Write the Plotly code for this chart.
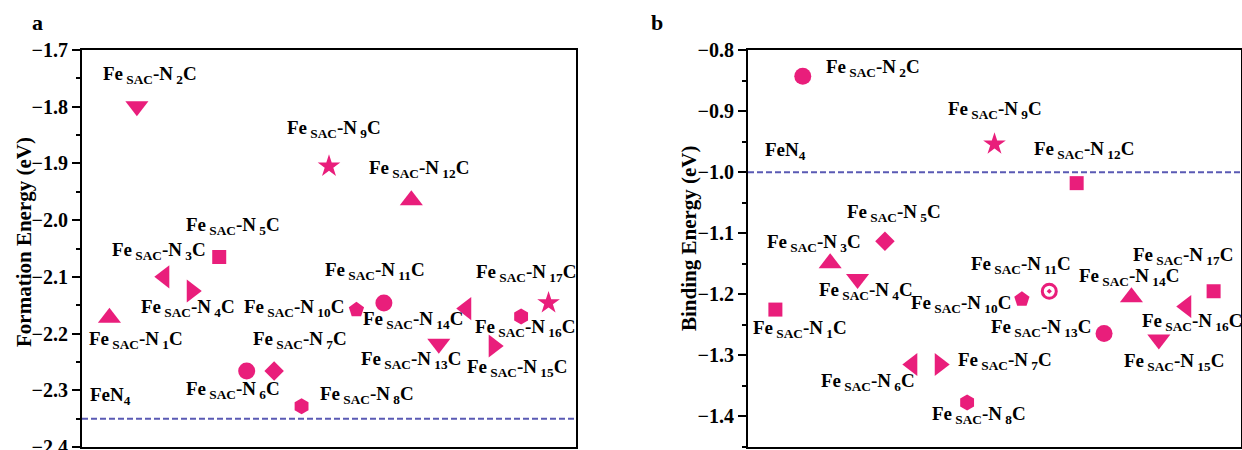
import plotly.graph_objects as go

# ---------------- data ----------------
n_index = list(range(1, 18))  # N1 ... N17

formation_energy = [-2.172, -1.799, -2.100, -2.125, -2.065, -2.266, -2.266, -2.328,
                    -1.905, -2.158, -2.146, -1.965, -2.218, -2.156, -2.222, -2.170, -2.146]
formation_fen4 = -2.35

binding_energy = [-1.225, -0.843, -1.149, -1.175, -1.113, -1.315, -1.315, -1.377,
                  -0.954, -1.208, -1.195, -1.018, -1.264, -1.205, -1.274, -1.220, -1.195]
binding_fen4 = -1.0

symbols_a = ["triangle-up", "triangle-down", "triangle-left", "triangle-right", "square",
             "circle", "diamond", "hexagon", "star", "pentagon", "circle", "triangle-up",
             "triangle-down", "triangle-left", "triangle-right", "hexagon", "star"]
symbols_b = ["square", "circle", "triangle-up", "triangle-down", "diamond", "triangle-left",
             "triangle-right", "hexagon", "star", "pentagon", "circle-open-dot", "square",
             "circle", "triangle-up", "triangle-down", "triangle-left", "square"]

# label offsets (pixels) relative to each marker
offsets_a = [(27, -24), (13, 29), (-5, 24), (-4, -19), (14, 29), (-14, -21), (26, 29), (65, 9),
             (5, 35), (-62, 0), (-9, 30), (8, 29), (-28, -18), (-53, -13), (23, -24), (4, -13),
             (-23, 28)]
offsets_b = [(25, -21), (70, 6), (-16, 18), (8, -14), (9, 26), (-44, -19), (65, 2), (12, -15),
             (0, 32), (-61, -7), (-28, 24), (7, 31), (-63, 3), (-2, 18), (15, -24), (6, -17),
             (-31, 33)]

PINK = "#E91E7B"
DASH = "#5A5AB4"
FONT = "Liberation Serif"

size_map = {"triangle-up": 20, "triangle-down": 20, "triangle-left": 20, "triangle-right": 20,
            "square": 14, "circle": 17, "diamond": 15, "hexagon": 16, "star": 17,
            "pentagon": 16, "circle-open-dot": 14}


def label(n):
    return f"Fe<sub> SAC</sub>-N<sub> {n}</sub>C"


fig = go.Figure()

for vals, syms, xa, ya in [(formation_energy, symbols_a, "x", "y"),
                           (binding_energy, symbols_b, "x2", "y2")]:
    fig.add_trace(go.Scatter(
        x=n_index, y=vals, mode="markers", xaxis=xa, yaxis=ya, showlegend=False,
        marker=dict(symbol=syms, color=PINK, opacity=1, size=[size_map[s] for s in syms],
                    line=dict(width=[3 if s == "circle-open-dot" else 0 for s in syms],
                              color=PINK)),
    ))

annotations = []
for vals, offs, xr, yr in [(formation_energy, offsets_a, "x", "y"),
                           (binding_energy, offsets_b, "x2", "y2")]:
    for n, v, (dx, dy) in zip(n_index, vals, offs):
        annotations.append(dict(
            x=n, y=v, xref=xr, yref=yr, text=label(n), showarrow=False,
            xshift=dx, yshift=dy + 2, xanchor="center", yanchor="middle",
            font=dict(family=FONT, size=19, color="black", weight="bold")))

# FeN4 reference lines and labels
for val, xr, yr, xs, ys in [(formation_fen4, "x", "y", 6, 21), (binding_fen4, "x2", "y2", 15, 19)]:
    fig.add_shape(type="line", xref=xr + " domain", yref=yr, x0=0, x1=1, y0=val, y1=val,
                  line=dict(color=DASH, width=2, dash="6px,3px"))
    annotations.append(dict(
        x=0, y=val, xref=xr, yref=yr, text="FeN<sub>4</sub>", showarrow=False,
        xshift=xs, yshift=ys + 2, xanchor="left", yanchor="middle",
        font=dict(family=FONT, size=19, color="black", weight="bold")))

# panel letters
for txt, xp in [("a", 37 / 1242), ("b", 657 / 1242)]:
    annotations.append(dict(
        x=xp, y=1.07, xref="paper", yref="paper", text=txt, showarrow=False,
        xanchor="center", yanchor="middle",
        font=dict(family=FONT, size=22, color="black", weight="bold")))

# axis titles (placed precisely as rotated annotations)
for txt, xp, yp in [("Formation Energy (eV)", 24 / 1242, (447 - 242) / 397),
                    ("Binding Energy (eV)", 689 / 1242, (447 - 238) / 397)]:
    annotations.append(dict(
        x=xp, y=yp, xref="paper", yref="paper", text=txt, showarrow=False,
        textangle=-90, xanchor="center", yanchor="middle",
        font=dict(family=FONT, size=21, color="black", weight="bold")))

axis_common = dict(showline=True, linewidth=2, linecolor="black", mirror=True,
                   showgrid=False, zeroline=False, automargin=False)

yaxis_common = dict(
    **axis_common, ticks="outside", ticklen=8, tickwidth=2, tickcolor="black",
    tickfont=dict(family=FONT, size=20, color="black", weight="bold"),
    minor=dict(ticks="outside", ticklen=4, tickwidth=2, tickcolor="black", dtick=0.05),
    dtick=0.1, tickformat=".1f", ticklabeloverflow="allow",
)

fig.update_layout(
    width=1242, height=450,
    margin=dict(l=0, r=0, t=50, b=3),
    paper_bgcolor="white", plot_bgcolor="white",
    xaxis=dict(**axis_common, domain=[82 / 1242, 576 / 1242], range=[0, 18],
               showticklabels=False, ticks=""),
    xaxis2=dict(**axis_common, domain=[748 / 1242, 1241 / 1242], range=[0, 18],
                showticklabels=False, ticks=""),
    yaxis=dict(**yaxis_common, range=[-2.4, -1.7], anchor="x"),
    yaxis2=dict(**yaxis_common, range=[-1.45, -0.8], anchor="x2"),
    annotations=annotations,
)

fig.write_html("out.html")
